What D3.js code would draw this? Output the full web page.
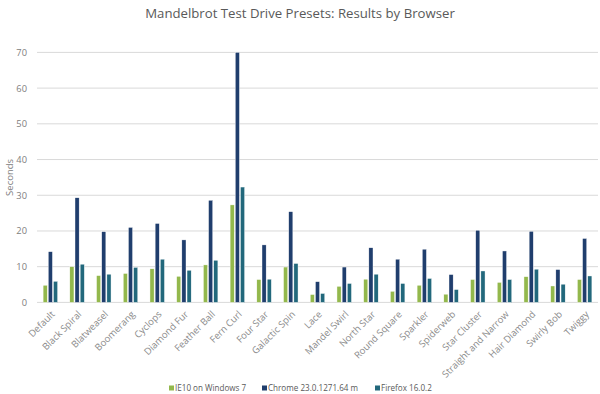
<!DOCTYPE html>
<html>
<head>
<meta charset="utf-8">
<script src="https://cdn.jsdelivr.net/npm/d3@7"></script>
<style>
  body { margin: 0; background: #fff; }
  svg { font-family: "Open Sans", "Noto Sans", sans-serif; }
</style>
</head>
<body>
<div id="chart"></div>
<script>
// presets, as on the x axis
var presets = ["Default", "Black Spiral", "Blatweasel", "Boomerang", "Cyclops", "Diamond Fur",
  "Feather Ball", "Fern Curl", "Four Star", "Galactic Spin", "Lace", "Mandel Swirl", "North Star",
  "Round Square", "Sparkler", "Spiderweb", "Star Cluster", "Straight and Narrow", "Hair Diamond",
  "Swirly Bob", "Twiggy"];

var browsers = ["IE10 on Windows 7", "Chrome 23.0.1271.64 m", "Firefox 16.0.2"];

// seconds per preset
var ie10 = [4.8, 10.0, 7.5, 8.1, 9.4, 7.3, 10.5, 27.3, 6.4, 9.9, 2.2, 4.5, 6.5, 3.1, 4.8, 2.3, 6.4, 5.6, 7.2, 4.6, 6.4];
var chrome = [14.2, 29.3, 19.8, 21.0, 22.1, 17.5, 28.6, 70.0, 16.1, 25.4, 5.8, 9.9, 15.3, 12.1, 14.9, 7.8, 20.2, 14.4, 19.9, 9.2, 17.9];
var firefox = [5.9, 10.7, 7.9, 9.8, 12.1, 9.0, 11.8, 32.3, 6.5, 10.9, 2.5, 5.3, 7.9, 5.3, 6.7, 3.6, 8.8, 6.4, 9.3, 5.1, 7.4];

var yTicks = [0, 10, 20, 30, 40, 50, 60, 70];

var colors = ["#93b84c", "#203e6d", "#22687c"];

var W = 600, H = 394;
var margin = {top: 52, right: 2, bottom: 92, left: 37};

var svg = d3.select("#chart").append("svg")
  .attr("width", W)
  .attr("height", H);

var x0 = d3.scaleBand()
  .domain(presets)
  .range([margin.left, W - margin.right])
  .paddingInner(0.38)
  .paddingOuter(0.19);

var x1 = d3.scaleBand()
  .domain(browsers)
  .range([0, x0.bandwidth()])
  .padding(0.2);

var y = d3.scaleLinear()
  .domain([0, 70])
  .range([H - margin.bottom + 0.4, margin.top + 0.4]);

var color = d3.scaleOrdinal().domain(browsers).range(colors);

// title
svg.append("text")
  .attr("x", 300)
  .attr("y", 18)
  .attr("text-anchor", "middle")
  .attr("font-size", 13.2)
  .attr("fill", "#595959")
  .text("Mandelbrot Test Drive Presets: Results by Browser");

// gridlines
svg.append("g")
  .selectAll("line")
  .data(yTicks)
  .join("line")
  .attr("x1", margin.left)
  .attr("x2", W - margin.right)
  .attr("y1", d => y(d))
  .attr("y2", d => y(d))
  .attr("stroke", "#d9d9d9")
  .attr("stroke-width", 1);

// y axis labels
var yAxis = d3.axisLeft(y).tickValues(yTicks).tickSize(0).tickPadding(10);
svg.append("g")
  .attr("transform", "translate(" + (margin.left) + ",0)")
  .call(yAxis)
  .call(g => g.select(".domain").remove())
  .selectAll("text")
  .attr("font-size", 9.3)
  .attr("font-family", "Open Sans, sans-serif")
  .attr("fill", "#808080");

svg.append("text")
  .attr("transform", "translate(13," + ((y(0) + y(70)) / 2) + ") rotate(-90)")
  .attr("text-anchor", "middle")
  .attr("font-size", 9.5)
  .attr("fill", "#808080")
  .text("Seconds");

// bars
var series = [ie10, chrome, firefox];
var rows = presets.map((p, i) => ({preset: p, vals: browsers.map((b, j) => ({browser: b, v: series[j][i]}))}));

var groups = svg.append("g")
  .selectAll("g")
  .data(rows)
  .join("g")
  .attr("transform", d => "translate(" + x0(d.preset) + ",0)");

groups.selectAll("rect")
  .data(d => d.vals)
  .join("rect")
  .attr("x", d => x1(d.browser))
  .attr("width", x1.bandwidth())
  .attr("y", d => y(d.v))
  .attr("height", d => y(0) - y(d.v))
  .attr("fill", d => color(d.browser))
  .attr("stroke", "#ffffff")
  .attr("stroke-width", 0.4);

// x axis labels
var xAxis = d3.axisBottom(x0).tickSize(0).tickPadding(0);
svg.append("g")
  .attr("transform", "translate(0," + y(0) + ")")
  .call(xAxis)
  .call(g => g.select(".domain").remove())
  .selectAll("text")
  .attr("font-size", 9.5)
  .attr("font-family", "Open Sans, sans-serif")
  .attr("fill", "#8a8a8a")
  .attr("text-anchor", "end")
  .attr("dy", 0)
  .attr("transform", "translate(5,12.5) rotate(-45)");

// legend
var legendX = [169, 262, 375];
var legend = svg.append("g")
  .selectAll("g")
  .data(browsers)
  .join("g")
  .attr("transform", (d, i) => "translate(" + legendX[i] + ",388)");

legend.append("rect")
  .attr("x", 0)
  .attr("y", -2.5)
  .attr("width", 5)
  .attr("height", 5)
  .attr("fill", d => color(d));

legend.append("text")
  .attr("x", 6)
  .attr("y", 3)
  .attr("font-size", 8.1)
  .attr("fill", "#595959")
  .text(d => d);
</script>
</body>
</html>
